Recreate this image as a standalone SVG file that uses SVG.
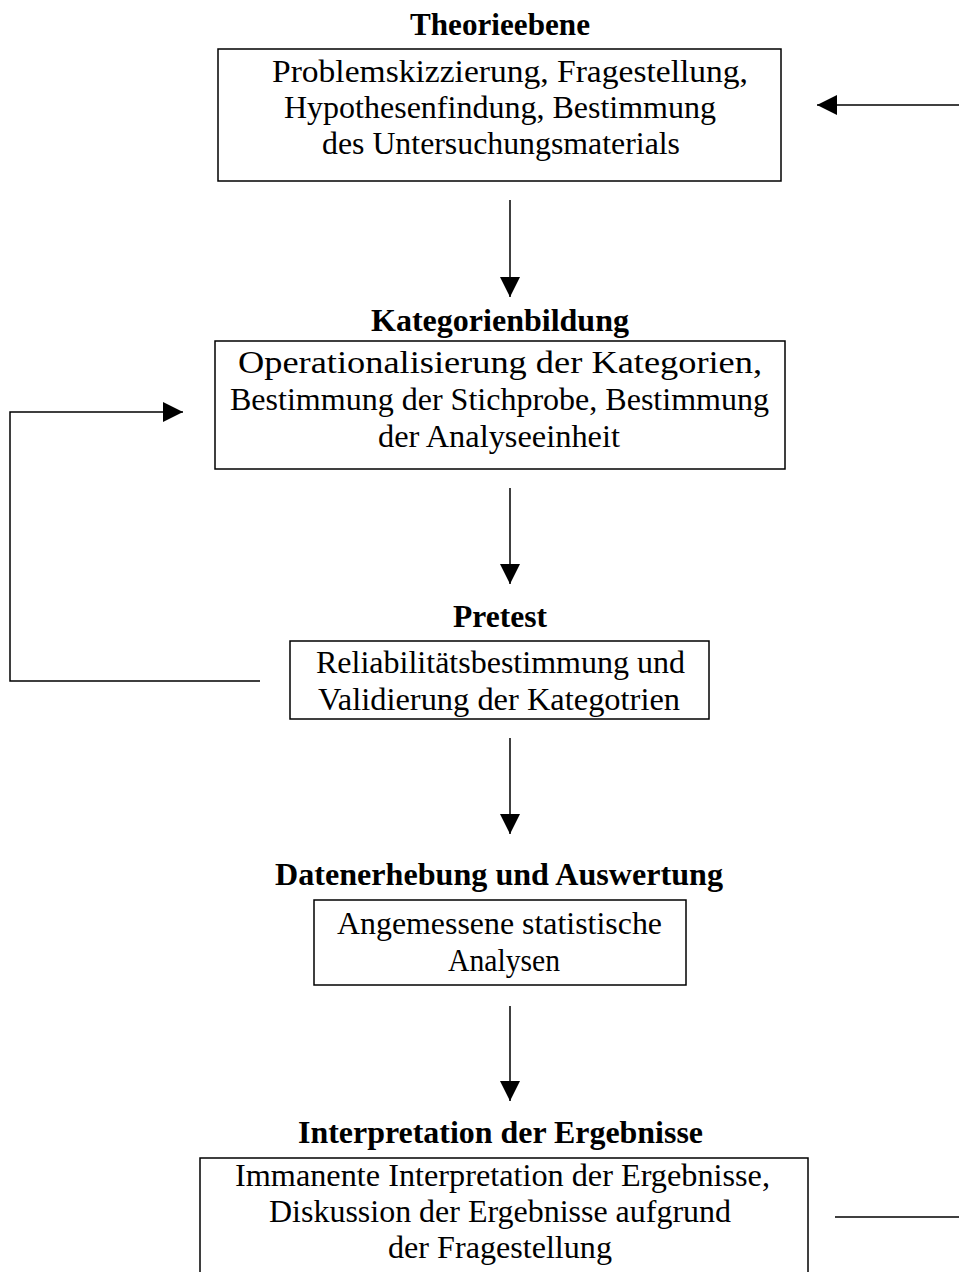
<svg xmlns="http://www.w3.org/2000/svg" width="959" height="1272" viewBox="0 0 959 1272">
<style>
.box{fill:#fff;stroke:#000;stroke-width:1.5}
.t{font-family:"Liberation Serif","Times New Roman",serif;font-size:32px;fill:#000;text-anchor:middle}
.h{font-weight:bold;font-size:31px}
.c{fill:none;stroke:#000;stroke-width:1.5}
</style>
<defs>
<marker id="ah" markerUnits="userSpaceOnUse" markerWidth="22" markerHeight="22" refX="20" refY="10" orient="auto">
<path d="M0,0 L20,10 L0,20 Z" fill="#000"/>
</marker>
</defs>
<rect width="959" height="1272" fill="#fff"/>
<g id="theorie">
<text class="t h" x="500" y="35" textLength="180" lengthAdjust="spacingAndGlyphs">Theorieebene</text>
<rect class="box" x="218" y="49" width="563" height="132"/>
<text class="t" x="510" y="82" textLength="476" lengthAdjust="spacingAndGlyphs">Problemskizzierung, Fragestellung,</text>
<text class="t" x="500" y="118" textLength="432" lengthAdjust="spacingAndGlyphs">Hypothesenfindung, Bestimmung</text>
<text class="t" x="501" y="154" textLength="358" lengthAdjust="spacingAndGlyphs">des Untersuchungsmaterials</text>
</g>
<g id="kategorien">
<text class="t h" x="500" y="331" textLength="258" lengthAdjust="spacingAndGlyphs">Kategorienbildung</text>
<rect class="box" x="215" y="341" width="570" height="128"/>
<text class="t" x="500" y="373" textLength="524" lengthAdjust="spacingAndGlyphs">Operationalisierung der Kategorien,</text>
<text class="t" x="499.5" y="410" textLength="539" lengthAdjust="spacingAndGlyphs">Bestimmung der Stichprobe, Bestimmung</text>
<text class="t" x="499" y="447" textLength="242" lengthAdjust="spacingAndGlyphs">der Analyseeinheit</text>
</g>
<g id="pretest">
<text class="t h" x="500" y="627" textLength="94" lengthAdjust="spacingAndGlyphs">Pretest</text>
<rect class="box" x="290" y="641" width="419" height="78"/>
<text class="t" x="500.5" y="673" textLength="369" lengthAdjust="spacingAndGlyphs">Reliabilitätsbestimmung und</text>
<text class="t" x="499" y="710" textLength="362" lengthAdjust="spacingAndGlyphs">Validierung der Kategotrien</text>
</g>
<g id="daten">
<text class="t h" x="499" y="885" textLength="448" lengthAdjust="spacingAndGlyphs">Datenerhebung und Auswertung</text>
<rect class="box" x="314" y="900" width="372" height="85"/>
<text class="t" x="499.5" y="934" textLength="325" lengthAdjust="spacingAndGlyphs">Angemessene statistische</text>
<text class="t" x="504" y="971" textLength="112" lengthAdjust="spacingAndGlyphs">Analysen</text>
</g>
<g id="interpretation">
<text class="t h" x="500.5" y="1143" textLength="405" lengthAdjust="spacingAndGlyphs">Interpretation der Ergebnisse</text>
<rect class="box" x="200" y="1158" width="608" height="130"/>
<text class="t" x="502.5" y="1186" textLength="535" lengthAdjust="spacingAndGlyphs">Immanente Interpretation der Ergebnisse,</text>
<text class="t" x="500" y="1222" textLength="462" lengthAdjust="spacingAndGlyphs">Diskussion der Ergebnisse aufgrund</text>
<text class="t" x="500" y="1258" textLength="224" lengthAdjust="spacingAndGlyphs">der Fragestellung</text>
</g>
<g id="connectors">
<line class="c" x1="510" y1="200" x2="510" y2="297" marker-end="url(#ah)"/>
<line class="c" x1="510" y1="488" x2="510" y2="584" marker-end="url(#ah)"/>
<line class="c" x1="510" y1="738" x2="510" y2="834" marker-end="url(#ah)"/>
<line class="c" x1="510" y1="1006" x2="510" y2="1101" marker-end="url(#ah)"/>
<line class="c" x1="959" y1="105" x2="817" y2="105" marker-end="url(#ah)"/>
<polyline class="c" points="260,681 10,681 10,412 183,412" marker-end="url(#ah)"/>
<line class="c" x1="835" y1="1217" x2="959" y2="1217"/>
</g>
</svg>
